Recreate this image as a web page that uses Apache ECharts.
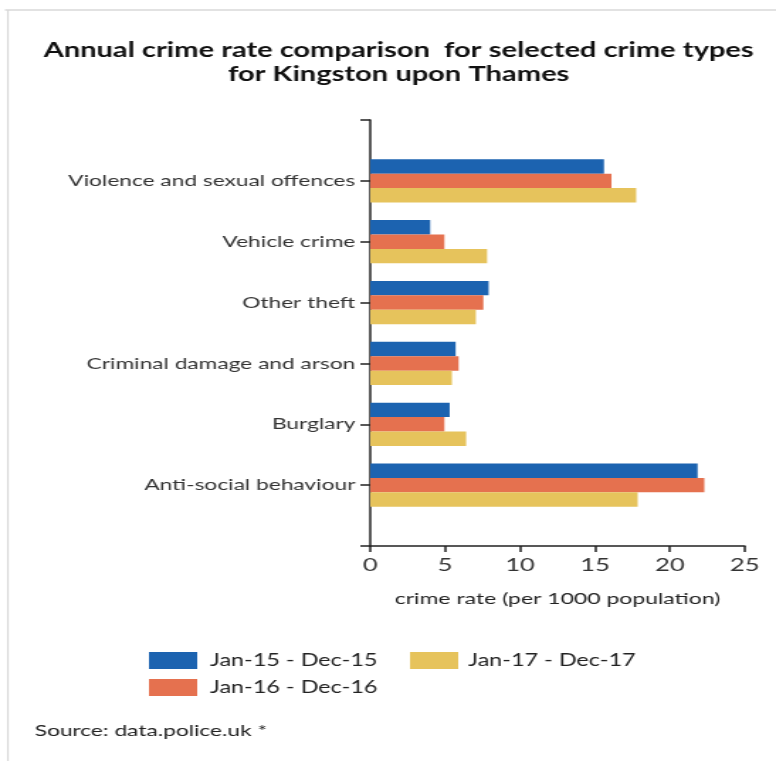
<!DOCTYPE html>
<html>
<head>
<meta charset="utf-8">
<script src="https://cdn.jsdelivr.net/npm/echarts@6/dist/echarts.min.js"></script>
<style>
html,body{margin:0;padding:0;background:#fff;overflow:hidden;}
#wrap{width:776px;height:761px;overflow:hidden;}
/* the reference picture is horizontally stretched; reproduce that stretch */
#chart{width:547px;height:761px;transform:scaleX(1.4186);transform-origin:0 0;}
</style>
</head>
<body>
<div id="wrap"><div id="chart"></div></div>
<script>
const categories = ['Violence and sexual offences', 'Vehicle crime', 'Other theft', 'Criminal damage and arson', 'Burglary', 'Anti-social behaviour'];
const seriesNames = ['Jan-15 - Dec-15', 'Jan-16 - Dec-16', 'Jan-17 - Dec-17'];
const values2015 = [15.6, 4.0, 7.9, 5.7, 5.3, 21.85];
const values2016 = [16.1, 4.95, 7.55, 5.9, 4.95, 22.3];
const values2017 = [17.75, 7.8, 7.05, 5.45, 6.4, 17.85];
const xTicks = [0, 5, 10, 15, 20, 25];
const colors = ['#1c63b0', '#e5714f', '#e6c35c'];

// empty padding slots at both ends of the category axis (no data)
const yCats = [''].concat(categories, ['']);
function pad(arr) { return [null].concat(arr, [null]); }

const font = 'Lato, "Open Sans", sans-serif';
const chart = echarts.init(document.getElementById('chart'));
const allVals = [values2015, values2016, values2017];

chart.setOption({
  animation: false,
  title: {
    text: 'Annual crime rate comparison  for selected crime types\nfor Kingston upon Thames',
    left: 276,
    textAlign: 'center',
    top: 33,
    textStyle: { fontFamily: font, fontWeight: 'bold', fontSize: 20.5, color: '#111', lineHeight: 24 }
  },
  grid: { left: 261, right: 22, top: 120, bottom: 215 },
  legend: [
    {
      orient: 'vertical', left: 100, top: 647,
      itemWidth: 34, itemHeight: 17, itemGap: 10,
      icon: 'rect',
      data: [seriesNames[0], seriesNames[1]],
      textStyle: { fontFamily: font, fontSize: 16.5, color: '#222', padding: [0, 0, 0, 4] }
    },
    {
      orient: 'vertical', left: 284, top: 647,
      itemWidth: 34, itemHeight: 17, itemGap: 10,
      icon: 'rect',
      data: [seriesNames[2]],
      textStyle: { fontFamily: font, fontSize: 16.5, color: '#222', padding: [0, 0, 0, 2] }
    }
  ],
  xAxis: {
    type: 'value',
    min: xTicks[0], max: xTicks[xTicks.length - 1], interval: 5,
    splitLine: { show: false },
    axisLine: { show: true, lineStyle: { color: '#222', width: 1.5 } },
    axisTick: { show: true, length: 6, lineStyle: { color: '#222', width: 1.5 } },
    axisLabel: { fontFamily: font, fontSize: 18, color: '#333', margin: 10 },
    name: 'crime rate (per 1000 population)',
    nameLocation: 'middle',
    nameGap: 45,
    nameTextStyle: { fontFamily: font, fontSize: 16.2, color: '#222' }
  },
  yAxis: {
    type: 'category',
    data: yCats,
    inverse: true,
    boundaryGap: false,
    axisLine: { show: true, lineStyle: { color: '#222', width: 1.5 } },
    axisTick: { show: true, length: 7, interval: 0, lineStyle: { color: '#222', width: 1.5 } },
    axisLabel: { fontFamily: font, fontSize: 16, color: '#333', margin: 10.5, interval: 0 }
  },
  series: seriesNames.map((n, i) => ({
    name: n,
    type: 'bar',
    data: pad(allVals[i]),
    barGap: '0%',
    barCategoryGap: '29%',
    itemStyle: { color: colors[i] }
  })),
  graphic: [
    { type: 'line', shape: { x1: 3.5, y1: 10, x2: 547, y2: 10 }, style: { stroke: '#d8d8d8', lineWidth: 1.5 } },
    { type: 'line', shape: { x1: 5.6, y1: 10, x2: 5.6, y2: 761 }, style: { stroke: '#d8d8d8', lineWidth: 1.1 } },
    { type: 'text', left: 24.5, top: 723, style: { text: 'Source: data.police.uk *', fontFamily: font, fontSize: 16, fill: '#222' } }
  ]
});
</script>
</body>
</html>
